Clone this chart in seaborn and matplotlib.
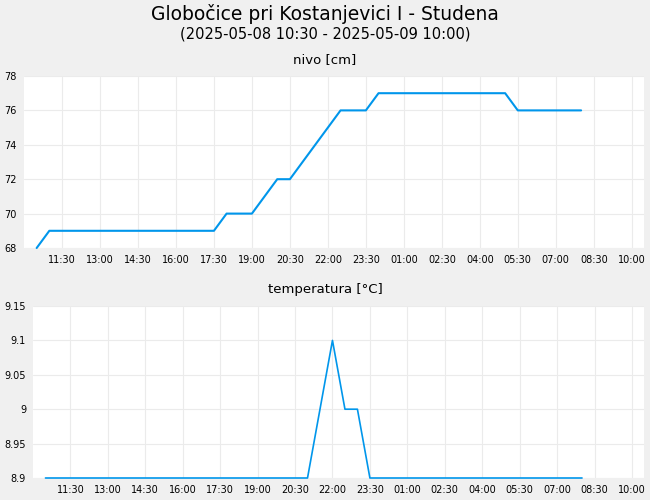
import matplotlib.dates as mdates
import matplotlib.pyplot as plt
import matplotlib.ticker as ticker
import pandas as pd
import seaborn as sns

# water level breakpoints (cm)
level_times = [
    "2025-05-08 10:30", "2025-05-08 11:00", "2025-05-08 17:30", "2025-05-08 18:00",
    "2025-05-08 19:00", "2025-05-08 20:00", "2025-05-08 20:30", "2025-05-08 22:30",
    "2025-05-08 23:30", "2025-05-09 00:00", "2025-05-09 05:00", "2025-05-09 05:30",
    "2025-05-09 08:00",
]
level_values = [68, 69, 69, 70, 70, 72, 72, 76, 76, 77, 77, 76, 76]

# water temperature breakpoints (°C)
temp_times = [
    "2025-05-08 10:30", "2025-05-08 21:00", "2025-05-08 22:00", "2025-05-08 22:30",
    "2025-05-08 23:00", "2025-05-08 23:30", "2025-05-09 08:00",
]
temp_values = [8.9, 8.9, 9.1, 9.0, 9.0, 8.9, 8.9]

level_yticks = [68, 70, 72, 74, 76, 78]
temp_yticks = [8.9, 8.95, 9.0, 9.05, 9.1, 9.15]

title = "Globočice pri Kostanjevici I - Studena"
subtitle = "(2025-05-08 10:30 - 2025-05-09 10:00)"

if __name__ == "__main__":

    sns.set_style("white")
    plt.rcParams["font.family"] = ["DejaVu Sans"]
    plt.rcParams["text.color"] = "black"

    level = pd.DataFrame({"time": pd.to_datetime(level_times), "value": level_values})
    temp = pd.DataFrame({"time": pd.to_datetime(temp_times), "value": temp_values})

    xticks = pd.date_range("2025-05-08 11:30", "2025-05-09 10:00", freq="90min")
    xlim = (pd.Timestamp("2025-05-08 10:00"), pd.Timestamp("2025-05-09 10:29"))

    fig = plt.figure(figsize=(6.5, 5), dpi=100, facecolor="#f0f0f0")
    axt = fig.add_axes([24 / 650, 1 - 248 / 500, 620 / 650, 172 / 500])
    axb = fig.add_axes([33 / 650, 1 - 478 / 500, 611 / 650, 172 / 500])

    sns.lineplot(data=level, x="time", y="value", ax=axt, color="#0096eb", linewidth=1.5)
    sns.lineplot(data=temp, x="time", y="value", ax=axb, color="#0096eb", linewidth=1.2)

    for ax, yticks in ((axt, level_yticks), (axb, temp_yticks)):
        ax.set_facecolor("white")
        ax.set_xlim(*xlim)
        ax.set_ylim(yticks[0], yticks[-1])
        ax.set_xticks(xticks)
        ax.set_yticks(yticks)
        ax.xaxis.set_major_formatter(mdates.DateFormatter("%H:%M"))
        ax.yaxis.set_major_formatter(ticker.FormatStrFormatter("%g"))
        ax.grid(True, color="#ebebeb", linewidth=0.8)
        ax.set_axisbelow(True)
        for spine in ax.spines.values():
            spine.set_visible(False)
        ax.tick_params(length=0, labelsize=7, pad=5, colors="black")
        ax.set_xlabel("")
        ax.set_ylabel("")
        for line in ax.get_lines():
            line.set_clip_on(False)

    fig.text(0.5, 1 - 14 / 500, title, ha="center", va="center", fontsize=13.5)
    fig.text(0.5, 1 - 34 / 500, subtitle, ha="center", va="center", fontsize=10.5)
    fig.text(0.5, 1 - 60 / 500, "nivo [cm]", ha="center", va="center", fontsize=9.5)
    fig.text(0.5, 1 - 290 / 500, "temperatura [°C]", ha="center", va="center", fontsize=9.5)

    fig.savefig("out.png", dpi=100, facecolor=fig.get_facecolor())
